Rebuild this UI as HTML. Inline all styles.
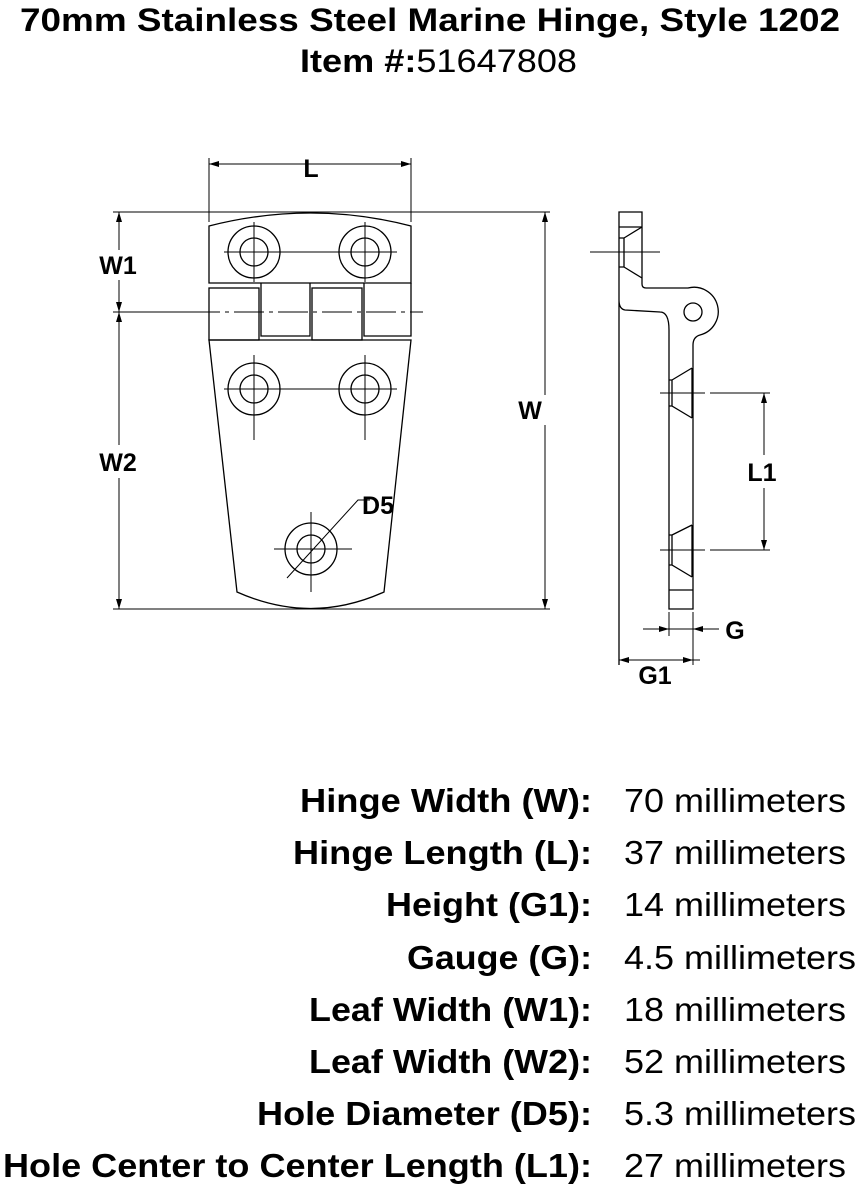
<!DOCTYPE html>
<html><head><meta charset="utf-8"><style>
html,body{margin:0;padding:0;background:#fff;}
svg{display:block;}
text{font-family:"Liberation Sans",Arial,sans-serif;fill:#000;}
.b{font-weight:bold;}
</style></head><body>
<svg width="858" height="1188" viewBox="0 0 858 1188" xmlns="http://www.w3.org/2000/svg">
<defs>
<marker id="a" markerWidth="10" markerHeight="6" refX="10" refY="3" orient="auto" markerUnits="userSpaceOnUse"><path d="M0,0 L10,3 L0,6 z" fill="#000"/></marker>
</defs>
<text x="20" y="31" class="b" font-size="32" textLength="820" lengthAdjust="spacingAndGlyphs">70mm Stainless Steel Marine Hinge, Style 1202</text>
<text x="300" y="72" font-size="32" textLength="277" lengthAdjust="spacingAndGlyphs"><tspan class="b">Item #:</tspan>51647808</text>

<g fill="none" stroke="#000" stroke-width="1.3">
<path d="M209,226 Q311,200 411,226 L411,283 L209,283 Z"/>
<rect x="209" y="288" width="50" height="52"/>
<path d="M261,283 L261,336 L310,336 L310,283"/>
<rect x="312" y="288" width="50" height="52"/>
<path d="M364,283 L364,336 L411,336 L411,283"/>
<path d="M209,340 L411,340 L384,592 Q311,625 237,592 Z"/>
<circle cx="254" cy="252" r="26"/><circle cx="254" cy="252" r="14"/>
<circle cx="365" cy="252" r="26"/><circle cx="365" cy="252" r="14"/>
<circle cx="254" cy="389" r="26"/><circle cx="254" cy="389" r="14"/>
<circle cx="365" cy="389" r="26"/><circle cx="365" cy="389" r="14"/>
<circle cx="311" cy="549" r="26"/><circle cx="311" cy="549" r="14"/>
</g>
<g stroke="#000" stroke-width="1" fill="none">
<line x1="224" y1="252" x2="397" y2="252"/>
<line x1="254" y1="222" x2="254" y2="282"/><line x1="365" y1="222" x2="365" y2="282"/>
<line x1="224" y1="389" x2="397" y2="389"/>
<line x1="254" y1="355" x2="254" y2="440"/><line x1="365" y1="355" x2="365" y2="440"/>
<line x1="274" y1="549" x2="352" y2="549"/><line x1="311" y1="512" x2="311" y2="592"/>
<line x1="190" y1="312" x2="423" y2="312" stroke-dasharray="30,5,4,5"/>
<path d="M287,578 L358,500 L370,500"/>
<line x1="113" y1="212" x2="550" y2="212"/>
<line x1="113" y1="609" x2="550" y2="609"/>
<line x1="113" y1="312" x2="190" y2="312"/>
<line x1="209" y1="158" x2="209" y2="222"/>
<line x1="411" y1="158" x2="411" y2="222"/>
<line x1="230" y1="164" x2="209" y2="164" marker-end="url(#a)"/>
<line x1="390" y1="164" x2="411" y2="164" marker-end="url(#a)"/>
<line x1="230" y1="164" x2="390" y2="164"/>
<line x1="119" y1="250" x2="119" y2="212" marker-end="url(#a)"/>
<line x1="119" y1="280" x2="119" y2="312" marker-end="url(#a)"/>
<line x1="119" y1="330" x2="119" y2="312" marker-end="url(#a)"/>
<line x1="119" y1="330" x2="119" y2="445"/>
<line x1="119" y1="478" x2="119" y2="609" marker-end="url(#a)"/>
<line x1="545" y1="395" x2="545" y2="212" marker-end="url(#a)"/>
<line x1="545" y1="425" x2="545" y2="609" marker-end="url(#a)"/>
</g>
<g fill="none" stroke="#000" stroke-width="1.3">
<path d="M619,665 L619,212 L642,212 L642,284 Q642,288 646,288 L688,288 A24,24 0 1 1 700,335 Q693,337 693,345 L693,609 L669,609 L669,330 Q669,312 660,312 L625,310 Q619,309 619,300"/>
<line x1="619" y1="227" x2="642" y2="227"/>
<path d="M624,238 L642,227 M624,238 L624,267 M624,267 L642,278 M619,238 L624,238 M619,267 L624,267"/>
<circle cx="693" cy="312" r="9"/>
<path d="M672,380 L692,368 M672,380 L672,406 L692,418 M669,380 L672,380 M669,406 L672,406"/>
<line x1="692" y1="368" x2="692" y2="418"/>
<path d="M672,535 L692,525 M672,535 L672,565 L692,577 M669,535 L672,535 M669,565 L672,565"/>
<line x1="692" y1="525" x2="692" y2="577"/>
<line x1="669" y1="590" x2="693" y2="590"/>
</g>
<g stroke="#000" stroke-width="1" fill="none">
<line x1="590" y1="252" x2="660" y2="252"/>
<line x1="660" y1="393" x2="705" y2="393"/><line x1="710" y1="393" x2="770" y2="393"/>
<line x1="660" y1="550" x2="705" y2="550"/><line x1="710" y1="550" x2="770" y2="550"/>
<line x1="764" y1="455" x2="764" y2="393" marker-end="url(#a)"/>
<line x1="764" y1="488" x2="764" y2="550" marker-end="url(#a)"/>
<line x1="669" y1="612" x2="669" y2="636"/>
<line x1="693" y1="612" x2="693" y2="665"/>
<line x1="643" y1="629" x2="669" y2="629" marker-end="url(#a)"/>
<line x1="719" y1="629" x2="693" y2="629" marker-end="url(#a)"/>
<line x1="669" y1="629" x2="693" y2="629"/>
<line x1="640" y1="660" x2="619" y2="660" marker-end="url(#a)"/>
<line x1="672" y1="660" x2="693" y2="660" marker-end="url(#a)"/>
<line x1="640" y1="660" x2="700" y2="660"/>
</g>
<g class="b" font-size="25">
<text x="311" y="177" text-anchor="middle">L</text>
<text x="118" y="274" text-anchor="middle">W1</text>
<text x="118" y="471" text-anchor="middle">W2</text>
<text x="530" y="419" text-anchor="middle">W</text>
<text x="378" y="514" text-anchor="middle">D5</text>
<text x="762" y="481" text-anchor="middle">L1</text>
<text x="735" y="639" text-anchor="middle">G</text>
<text x="655" y="684" text-anchor="middle">G1</text>
</g>
<g font-size="33">
<text class="b" x="300" y="812" textLength="292" lengthAdjust="spacingAndGlyphs">Hinge Width (W):</text>
<text class="b" x="293" y="864" textLength="299" lengthAdjust="spacingAndGlyphs">Hinge Length (L):</text>
<text class="b" x="386" y="916" textLength="206" lengthAdjust="spacingAndGlyphs">Height (G1):</text>
<text class="b" x="407" y="969" textLength="185" lengthAdjust="spacingAndGlyphs">Gauge (G):</text>
<text class="b" x="309" y="1021" textLength="283" lengthAdjust="spacingAndGlyphs">Leaf Width (W1):</text>
<text class="b" x="309" y="1073" textLength="283" lengthAdjust="spacingAndGlyphs">Leaf Width (W2):</text>
<text class="b" x="257" y="1125" textLength="335" lengthAdjust="spacingAndGlyphs">Hole Diameter (D5):</text>
<text class="b" x="3" y="1177" textLength="589" lengthAdjust="spacingAndGlyphs">Hole Center to Center Length (L1):</text>
<text x="624" y="812" textLength="222" lengthAdjust="spacingAndGlyphs">70 millimeters</text>
<text x="624" y="864" textLength="222" lengthAdjust="spacingAndGlyphs">37 millimeters</text>
<text x="624" y="916" textLength="222" lengthAdjust="spacingAndGlyphs">14 millimeters</text>
<text x="624" y="969" textLength="232" lengthAdjust="spacingAndGlyphs">4.5 millimeters</text>
<text x="624" y="1021" textLength="222" lengthAdjust="spacingAndGlyphs">18 millimeters</text>
<text x="624" y="1073" textLength="222" lengthAdjust="spacingAndGlyphs">52 millimeters</text>
<text x="624" y="1125" textLength="232" lengthAdjust="spacingAndGlyphs">5.3 millimeters</text>
<text x="624" y="1177" textLength="222" lengthAdjust="spacingAndGlyphs">27 millimeters</text>
</g>
</svg>
</body></html>
